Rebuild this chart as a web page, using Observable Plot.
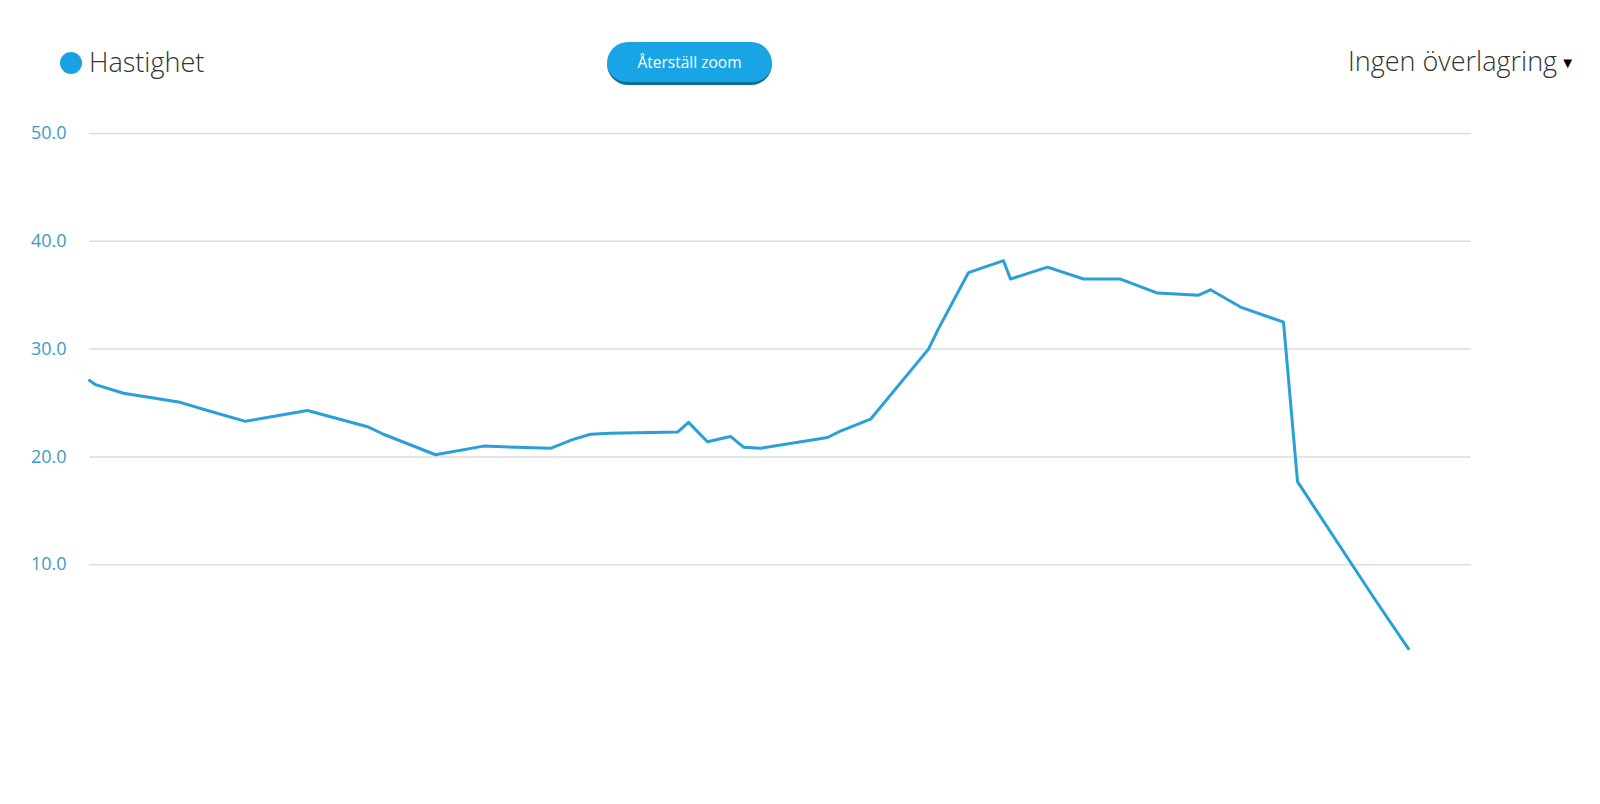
<!DOCTYPE html>
<html>
<head>
<meta charset="utf-8">
<script src="https://cdn.jsdelivr.net/npm/d3@7"></script>
<script src="https://cdn.jsdelivr.net/npm/@observablehq/plot@0.6"></script>
<style>
  html, body { margin: 0; padding: 0; background: #fff; }
  body { width: 1600px; height: 804px; overflow: hidden; font-family: "Open Sans", sans-serif; }
  #header { position: relative; height: 100px; width: 1600px; }
  .dot { position: absolute; left: 60px; top: 52px; width: 22px; height: 22px; border-radius: 50%; background: #18a2e3; }
  .legend { position: absolute; left: 89px; top: 42px; font-size: 27px; font-weight: 300; color: #333; line-height: 40px; white-space: nowrap; }
  .btn { position: absolute; left: 607px; top: 42px; width: 165px; height: 40px; border-radius: 21px; background: #19a4e6; border-bottom: 3px solid #0b6f9e; box-sizing: content-box; color: #fff; font-size: 15.5px; font-weight: 500; line-height: 40px; text-align: center; }
  .overlay { position: absolute; right: 25px; top: 41px; font-size: 27px; font-weight: 300; color: #333; line-height: 40px; white-space: nowrap; }
  .overlay span { font-size: 15px; color: #000; position: relative; top: -3px; margin-left: 3px; }
</style>
</head>
<body>
<div id="header">
  <div class="dot"></div>
  <div class="legend">Hastighet</div>
  <div class="btn">Återställ zoom</div>
  <div class="overlay">Ingen överlagring<span>▼</span></div>
</div>
<div id="chart"></div>
<script>
// Distance along the track (arbitrary units) and speed
const distance = [0, 6, 34, 89, 118, 156, 218, 278, 294, 346, 394, 461, 483, 501, 521, 588, 599, 618, 641, 654, 671, 738, 751, 781, 839, 849, 879, 914, 921, 958, 994, 1031, 1068, 1109, 1121, 1151, 1194, 1208, 1286, 1319];
const speed    = [27.1, 26.7, 25.9, 25.1, 24.3, 23.3, 24.3, 22.8, 22.1, 20.2, 21.0, 20.8, 21.6, 22.1, 22.2, 22.3, 23.2, 21.4, 21.9, 20.9, 20.8, 21.8, 22.4, 23.5, 30.0, 31.9, 37.1, 38.2, 36.5, 37.6, 36.5, 36.5, 35.2, 35.0, 35.5, 33.9, 32.5, 17.7, 6.7, 2.2];
const yTicks   = [10, 20, 30, 40, 50];
const xDomain  = [0, 1382];
const yDomain  = [0, 50];

const data = distance.map((d, i) => ({ d, v: speed[i] }));

const chart = Plot.plot({
  width: 1600,
  height: 704,
  marginLeft: 89,
  marginRight: 129,
  marginTop: 33,
  marginBottom: 132,
  style: { background: "transparent", fontFamily: "'Open Sans', sans-serif" },
  x: { domain: xDomain, axis: null },
  y: { domain: yDomain, ticks: yTicks, axis: null },
  marks: [
    Plot.gridY(yTicks, { stroke: "#dcdcdc", strokeOpacity: 1, strokeWidth: 1.5 }),
    Plot.axisY(yTicks, { tickSize: 0, tickPadding: 23, tickFormat: d => d.toFixed(1), fill: "#3a9cc4", fontSize: 18, label: null }),
    Plot.line(data, { x: "d", y: "v", stroke: "#2a9fd8", strokeWidth: 3, strokeLinejoin: "round", strokeLinecap: "round" })
  ]
});
document.getElementById("chart").appendChild(chart);
</script>
</body>
</html>
